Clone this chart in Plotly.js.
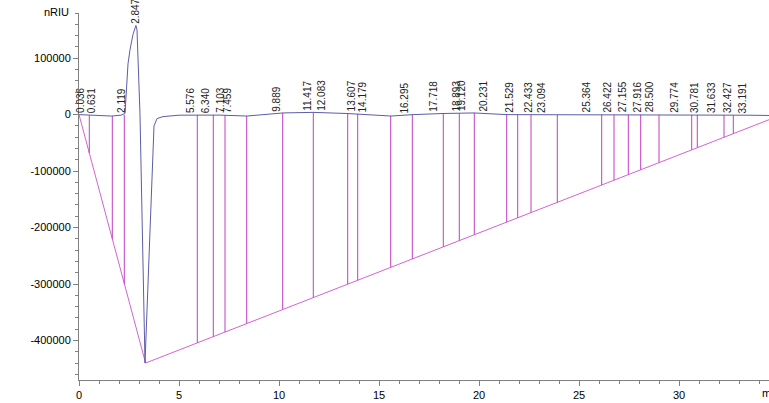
<!DOCTYPE html>
<html>
<head>
<meta charset="utf-8">
<script src="https://cdn.plot.ly/plotly-3.0.1.min.js"></script>
<style>
  html, body { margin: 0; padding: 0; background: #fff; }
  #chart { width: 769px; height: 403px; }
</style>
</head>
<body>
<div id="chart"></div>
<script>
// Detector signal (time in min, response in nRIU)
let traceX = [0.0, 0.5, 1.0, 1.63, 2.1, 2.3, 2.45, 2.55, 2.7, 2.847, 2.9, 3.0, 3.05, 3.3,
              3.75, 3.9, 4.2, 5.0, 6.0, 7.0, 8.4, 10.2, 11.7, 13.4, 15.6, 16.7, 18.2,
              19.75, 21.4, 22.6, 23.9, 26.0, 28.0, 30.0, 32.0, 33.5, 34.5];
let traceY = [0, -800, -1500, -2500, -1000, 2000, 90000, 115000, 142000, 158000, 150000, 60000, 0, -440000,
              -20000, -7000, -3500, -1000, -500, -800, -2500, 3000, 4000, 2000, -2500, 0, 2000,
              3000, 0, 0, 0, 0, 0, -500, -500, -1000, -1500];

// Integration baseline
let baseX = [0.0, 3.33, 35.15];
let baseY = [0, -440000, 0];

// Drop lines between peaks
let dropX = [0.515, 1.665, 2.265, 5.915, 6.715, 7.30, 8.385, 10.185, 11.715, 13.435, 13.935,
             15.585, 16.665, 18.215, 19.015, 19.765, 21.385, 21.935, 22.6, 23.915, 26.135,
             26.75, 27.465, 28.085, 29.0, 30.635, 30.915, 32.25, 32.715];
let dropTop = [-800, -2400, -500, -500, -500, -800, -2500, 3000, 4000, 2000, 1500,
               -2500, 0, 2000, 2500, 3000, 0, 0, 0, 0, 0,
               0, 0, 0, 0, -500, -500, -500, -800];
let dropBottom = [-68000, -220000, -299300, -404000, -393200, -385100, -370100, -345200, -324100, -300300, -293400,
                  -270500, -255600, -234200, -223100, -212700, -190300, -182700, -173500, -155400, -124700,
                  -116100, -106300, -97700, -85000, -62400, -58600, -40100, -33700];

// Retention times of the labelled peaks
let peakTimes = [0.036, 0.631, 2.119, 2.847, 5.576, 6.340, 7.103, 7.459, 9.889, 11.417, 12.083,
                 13.607, 14.179, 16.295, 17.718, 18.893, 19.120, 20.231, 21.529, 22.433, 23.094,
                 25.364, 26.422, 27.155, 27.916, 28.500, 29.774, 30.781, 31.633, 32.427, 33.191];

let yTickVals = [-400000, -300000, -200000, -100000, 0, 100000];
let yTickText = ['-400000', '-300000', '-200000', '-100000', '0', '100000'];

function signalAt(x) {
    for (let i = 1; i < traceX.length; i++) {
        if (x <= traceX[i]) {
            let t = (x - traceX[i - 1]) / (traceX[i] - traceX[i - 1]);
            return traceY[i - 1] + t * (traceY[i] - traceY[i - 1]);
        }
    }
    return traceY[traceY.length - 1];
}

// one trace for all drop lines, separated by nulls
let dx = [], dy = [];
for (let i = 0; i < dropX.length; i++) {
    dx.push(dropX[i], dropX[i], null);
    dy.push(dropTop[i], dropBottom[i], null);
}

let dropTrace = {
    x: dx, y: dy,
    mode: 'lines', type: 'scatter',
    line: { color: '#c23ec2', width: 1 },
    hoverinfo: 'none'
};

let baseTrace = {
    x: baseX, y: baseY,
    mode: 'lines', type: 'scatter',
    line: { color: '#d264d2', width: 1 },
    hoverinfo: 'none'
};

let signalTrace = {
    x: traceX, y: traceY,
    mode: 'lines', type: 'scatter',
    line: { color: '#5c5ca8', width: 1 },
    hoverinfo: 'none'
};

let annotations = peakTimes.map(t => ({
    x: t, y: signalAt(t),
    xref: 'x', yref: 'y',
    text: t.toFixed(3),
    textangle: -90,
    showarrow: false,
    xanchor: 'center', yanchor: 'bottom',
    font: { size: 10, color: '#222' }
}));

annotations.push({
    xref: 'paper', yref: 'paper', x: 0, y: 1,
    xanchor: 'right', yanchor: 'middle', xshift: -8, yshift: 1,
    text: 'nRIU', showarrow: false,
    font: { size: 11, color: '#000' }
});
annotations.push({
    xref: 'paper', yref: 'paper', x: 1, y: 0,
    xanchor: 'left', yanchor: 'top', xshift: -9, yshift: -5,
    text: 'min', showarrow: false,
    font: { size: 11, color: '#000' }
});

let layout = {
    width: 769,
    height: 403,
    autosize: false,
    margin: { l: 79, r: 0, t: 13, b: 23, pad: 0 },
    showlegend: false,
    paper_bgcolor: '#fff',
    plot_bgcolor: '#fff',
    font: { family: 'Liberation Sans, Arial, sans-serif', size: 11, color: '#000' },
    xaxis: {
        range: [0, 34.5],
        dtick: 5, tick0: 0,
        ticks: 'outside', ticklen: 5, tickcolor: '#808080',
        minor: { dtick: 1, tick0: 0, ticks: 'outside', ticklen: 3, tickcolor: '#808080' },
        showline: true, linecolor: '#808080', linewidth: 1,
        showgrid: false, zeroline: false,
        fixedrange: true
    },
    yaxis: {
        range: [-470000, 180000],
        tickmode: 'array', tickvals: yTickVals, ticktext: yTickText,
        ticks: 'outside', ticklen: 5, tickcolor: '#808080',
        minor: { dtick: 20000, tick0: 0, ticks: 'outside', ticklen: 3, tickcolor: '#808080' },
        showline: true, linecolor: '#808080', linewidth: 1,
        showgrid: false, zeroline: false,
        fixedrange: true
    },
    annotations: annotations
};

Plotly.newPlot('chart', [baseTrace, dropTrace, signalTrace], layout, { staticPlot: true, displayModeBar: false });
</script>
</body>
</html>
